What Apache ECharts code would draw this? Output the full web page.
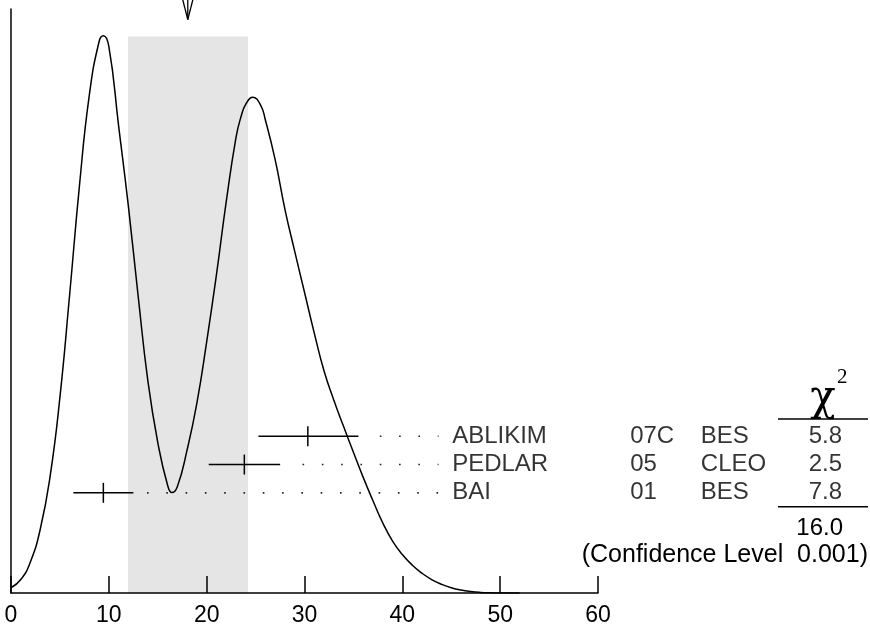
<!DOCTYPE html>
<html>
<head>
<meta charset="utf-8">
<script src="https://cdn.jsdelivr.net/npm/echarts@6/dist/echarts.min.js"></script>
<style>
  html, body { margin: 0; padding: 0; background: #fff; }
  #chart { width: 870px; height: 632px; }
</style>
</head>
<body>
<div id="chart"></div>
<script>
// likelihood curve (x, relative height)
var curveX = [0, 1, 2, 3, 4, 5, 6, 7, 8, 9, 9.44, 10, 11, 12, 13, 14, 15, 16, 16.45, 17, 18, 19, 20, 21, 22, 23, 23.5, 24, 24.7, 25.5, 26, 27, 28, 29, 30, 31, 32, 33, 34, 35, 36, 37, 38, 39, 40, 41, 42, 43, 44, 45, 46, 47, 48, 49, 50, 52];
var curveY = [0.009, 0.023, 0.054, 0.11, 0.2, 0.335, 0.512, 0.698, 0.852, 0.944, 0.954, 0.936, 0.8, 0.662, 0.508, 0.362, 0.258, 0.185, 0.172, 0.182, 0.245, 0.325, 0.43, 0.545, 0.67, 0.78, 0.815, 0.837, 0.849, 0.836, 0.81, 0.742, 0.657, 0.585, 0.515, 0.445, 0.38, 0.33, 0.285, 0.241, 0.198, 0.158, 0.12, 0.089, 0.066, 0.048, 0.034, 0.023, 0.015, 0.009, 0.005, 0.0025, 0.001, 0.0003, 0, 0];

// shaded range and the arrow
var band = [11.96, 24.23];
var bandTop = 0.953;
var arrowX = 18.07;
var arrowTip = 0.982;

// measurements (row 3 is the top one)
var names = ['ABLIKIM', 'PEDLAR', 'BAI'];
var years = ['07C', '05', '01'];
var expts = ['BES', 'CLEO', 'BES'];
var chi2 = ['5.8', '2.5', '7.8'];
var rows = [3, 2, 1];
var centers = [30.34, 23.85, 9.44];
var lows = [25.29, 20.21, 6.37];
var highs = [35.51, 27.51, 12.51];
var dotFrom = [37.7, 29.8, 13.9];
var dotTo = 43.7;
var chi2Total = '16.0';
var confLevel = '(Confidence Level  0.001)';

var xTicks = [0, 10, 20, 30, 40, 50, 60];

var font = 'Liberation Sans';
var chart = echarts.init(document.getElementById('chart'));

var curveData = curveX.map(function (x, i) { return [x, curveY[i]]; });
var barData = rows.map(function (r, i) { return [lows[i], centers[i], highs[i], r]; });
var labelData = rows.map(function (r, i) { return [45.09, r]; });

var dotSeries = rows.map(function (r, i) {
  return {
    type: 'line',
    yAxisIndex: 1,
    data: [[dotFrom[i], r], [dotTo, r]],
    symbol: 'none',
    silent: true,
    z: 4,
    lineStyle: { color: '#222', width: 1.6, type: [1.6, 17.7] }
  };
});

var option = {
  animation: false,
  backgroundColor: '#fff',
  grid: { left: 11, right: 272, top: 9, bottom: 39 },
  xAxis: {
    type: 'value',
    min: xTicks[0],
    max: xTicks[xTicks.length - 1],
    interval: 10,
    z: 10,
    axisLine: { lineStyle: { color: '#000', width: 1.5 } },
    axisTick: { inside: true, length: 17, lineStyle: { color: '#000', width: 1.5 } },
    axisLabel: { color: '#000', fontSize: 23, fontFamily: font, margin: 11 },
    splitLine: { show: false }
  },
  yAxis: [{
    type: 'value',
    min: 0,
    max: 1,
    axisLine: { show: true, lineStyle: { color: '#000', width: 1.5 } },
    axisTick: { show: false },
    axisLabel: { show: false },
    splitLine: { show: false }
  }, {
    type: 'value',
    min: -2.54,
    max: 18.1,
    show: false
  }],
  series: [{
    // gray band
    type: 'line',
    data: [],
    z: 1,
    silent: true,
    markArea: {
      silent: true,
      itemStyle: { color: '#e5e5e5' },
      data: [[{ coord: [band[0], 0] }, { coord: [band[1], bandTop] }]]
    }
  }, {
    type: 'line',
    data: curveData,
    smooth: 0.5,
    symbol: 'none',
    z: 3,
    lineStyle: { color: '#000', width: 1.5 }
  }].concat(dotSeries).concat([{
    // error bars
    type: 'custom',
    yAxisIndex: 1,
    z: 5,
    data: barData,
    renderItem: function (params, api) {
      var a = api.coord([api.value(0), api.value(3)]);
      var c = api.coord([api.value(1), api.value(3)]);
      var b = api.coord([api.value(2), api.value(3)]);
      var st = { stroke: '#000', lineWidth: 1.5 };
      return {
        type: 'group',
        children: [
          { type: 'line', shape: { x1: a[0], y1: a[1], x2: b[0], y2: b[1] }, style: st },
          { type: 'line', shape: { x1: c[0], y1: c[1] - 10, x2: c[0], y2: c[1] + 10 }, style: st }
        ]
      };
    }
  }, {
    // arrow at the top
    type: 'custom',
    z: 5,
    data: [[arrowX, arrowTip]],
    renderItem: function (params, api) {
      var p = api.coord([api.value(0), api.value(1)]);
      var st = { stroke: '#000', lineWidth: 1.3, fill: null };
      return {
        type: 'group',
        children: [
          { type: 'line', shape: { x1: p[0], y1: p[1], x2: p[0], y2: -5 }, style: st },
          { type: 'line', shape: { x1: p[0], y1: p[1], x2: p[0] - 5.5, y2: -2 }, style: st },
          { type: 'line', shape: { x1: p[0], y1: p[1], x2: p[0] + 5.5, y2: -2 }, style: st }
        ]
      };
    }
  }, {
    // text table
    type: 'scatter',
    yAxisIndex: 1,
    symbolSize: 0,
    z: 6,
    data: labelData,
    label: {
      show: true,
      position: 'right',
      distance: 0,
      formatter: function (p) {
        var i = p.dataIndex;
        return '{n|' + names[i] + '}{y|' + years[i] + '}{e|' + expts[i] + '}{c|' + chi2[i] + '}';
      },
      rich: {
        n: { width: 178, fontSize: 24, fontFamily: font, color: '#000' },
        y: { width: 70.7, fontSize: 24, fontFamily: font, color: '#000' },
        e: { width: 100, fontSize: 24, fontFamily: font, color: '#000' },
        c: { width: 41.3, align: 'right', fontSize: 24, fontFamily: font, color: '#000' }
      }
    }
  }]),
  graphic: [
    { type: 'text', x: 823, y: 420, style: { text: 'χ', font: '42px "DejaVu Serif"', fill: '#000', align: 'center', verticalAlign: 'bottom' } },
    { type: 'text', left: 837, top: 367, style: { text: '2', font: '21px "Liberation Serif"', fill: '#000' } },
    { type: 'line', shape: { x1: 778, y1: 419, x2: 868, y2: 419 }, style: { stroke: '#000', lineWidth: 1.5 } },
    { type: 'line', shape: { x1: 778, y1: 506.7, x2: 868, y2: 506.7 }, style: { stroke: '#000', lineWidth: 1.5 } },
    { type: 'text', x: 843, y: 528, style: { text: chi2Total, font: '24px ' + font, fill: '#000', align: 'right', verticalAlign: 'middle' } },
    { type: 'text', x: 868, y: 555, style: { text: confLevel, font: '25px ' + font, fill: '#000', align: 'right', verticalAlign: 'middle' } }
  ]
};

chart.setOption(option);
</script>
</body>
</html>
